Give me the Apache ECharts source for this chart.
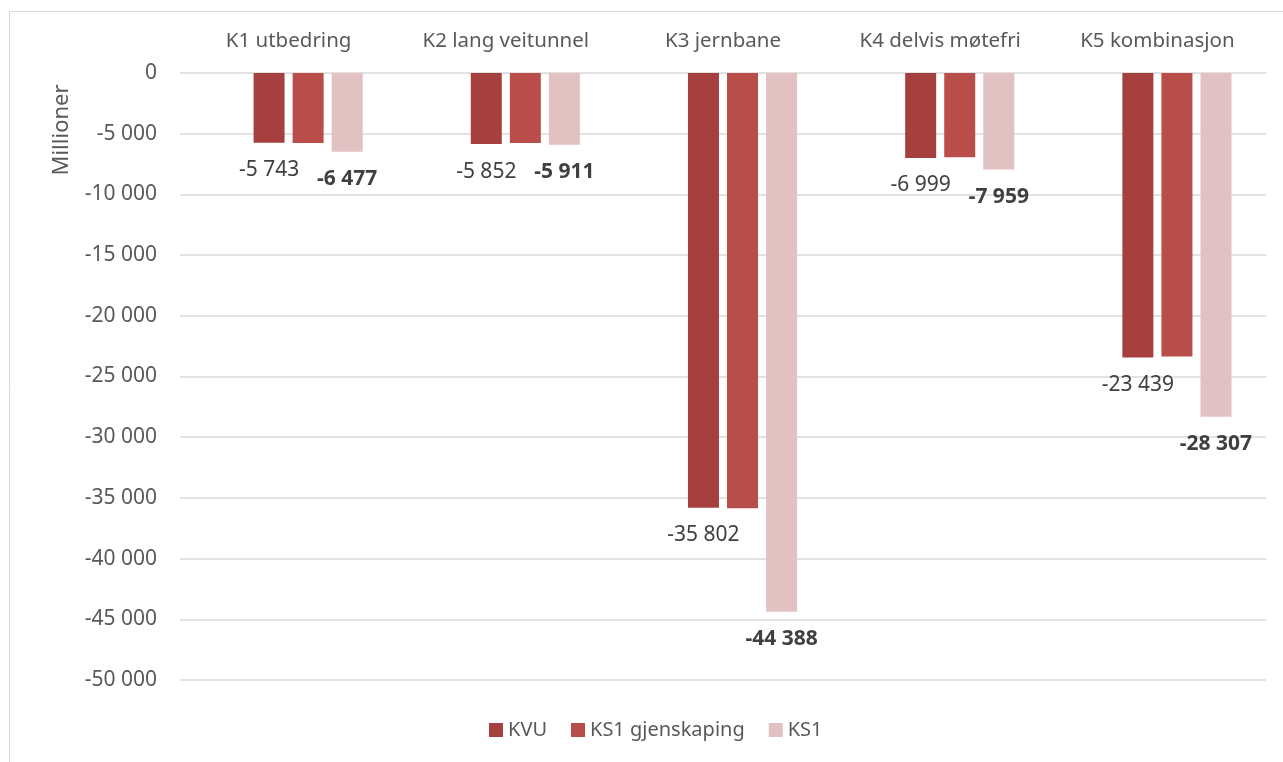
<!DOCTYPE html>
<html>
<head>
<meta charset="utf-8">
<title>Kostnader per konsept</title>
<script src="https://cdn.jsdelivr.net/npm/echarts@6/dist/echarts.min.js"></script>
<style>
  html, body { margin: 0; padding: 0; background: #fff; }
  #chart { width: 1283px; height: 762px; }
</style>
</head>
<body>
<div id="chart"></div>
<script>
// data
const categories = ['K1 utbedring', 'K2 lang veitunnel', 'K3 jernbane', 'K4 delvis møtefri', 'K5 kombinasjon'];
const kvu = [-5743, -5852, -35802, -6999, -23439];
const ks1Gjenskaping = [-5760, -5760, -35850, -6950, -23350];
const ks1 = [-6477, -5911, -44388, -7959, -28307];
const emptySlot = [null, null, null, null, null]; // unused series slot in the original chart
const yTicks = { min: -50000, max: 0, step: 5000 };

const fontFamily = '"Noto Sans", "Open Sans", sans-serif';

// "-5743" -> "-5 743"
function fmt(v) {
  const s = Math.abs(v).toString().replace(/\B(?=(\d{3})+(?!\d))/g, ' ');
  return (v < 0 ? '-' : '') + s;
}

const chart = echarts.init(document.getElementById('chart'));

const barBase = {
  type: 'bar',
  barWidth: 31,
  barGap: '26%'
};

const options = {
  animation: false,
  textStyle: { fontFamily: fontFamily },
  graphic: [
    {
      type: 'rect',
      shape: { x: 9.5, y: 11.5, width: 1300, height: 800 },
      style: { fill: 'none', stroke: '#d9d9d9', lineWidth: 1 }
    },
    {
      type: 'text',
      x: 62,
      y: 130,
      rotation: Math.PI / 2,
      style: {
        text: 'Millioner',
        font: '22px ' + fontFamily,
        fill: '#595959',
        textAlign: 'center',
        textVerticalAlign: 'middle'
      }
    }
  ],
  grid: {
    left: 180,
    right: 17,
    top: 73,
    bottom: 82
  },
  legend: {
    data: ['KVU', 'KS1 gjenskaping', 'KS1'],
    bottom: 17,
    left: 484,
    itemWidth: 14,
    itemHeight: 14,
    itemGap: 24,
    icon: 'rect',
    textStyle: { color: '#595959', fontSize: 20, fontFamily: fontFamily }
  },
  xAxis: {
    type: 'category',
    position: 'top',
    data: categories,
    axisLine: { show: false },
    axisTick: { show: false },
    axisLabel: { color: '#595959', fontSize: 20.5, margin: 21, fontFamily: fontFamily }
  },
  yAxis: {
    type: 'value',
    min: yTicks.min,
    max: yTicks.max,
    interval: yTicks.step,
    axisLine: { show: false },
    axisTick: { show: false },
    splitLine: { lineStyle: { color: '#d9d9d9', width: 1.5 } },
    axisLabel: {
      color: '#595959',
      fontSize: 21,
      margin: 23,
      fontFamily: fontFamily,
      formatter: fmt
    }
  },
  series: [
    Object.assign({}, barBase, {
      name: '',
      data: emptySlot,
      silent: true
    }),
    Object.assign({}, barBase, {
      name: 'KVU',
      data: kvu,
      itemStyle: { color: '#A5403E' },
      label: {
        show: true,
        position: 'bottom',
        distance: 17,
        color: '#404040',
        fontSize: 21,
        fontFamily: fontFamily,
        formatter: p => fmt(p.value)
      }
    }),
    Object.assign({}, barBase, {
      name: 'KS1 gjenskaping',
      data: ks1Gjenskaping,
      itemStyle: { color: '#B94D4A' }
    }),
    Object.assign({}, barBase, {
      name: 'KS1',
      data: ks1,
      itemStyle: { color: '#E2C1C2' },
      label: {
        show: true,
        position: 'bottom',
        distance: 17,
        color: '#404040',
        fontSize: 21,
        fontWeight: 'bold',
        fontFamily: fontFamily,
        formatter: p => fmt(p.value)
      }
    })
  ]
};

chart.setOption(options);
window.addEventListener('resize', () => {
  chart.resize();
});
</script>
</body>
</html>
